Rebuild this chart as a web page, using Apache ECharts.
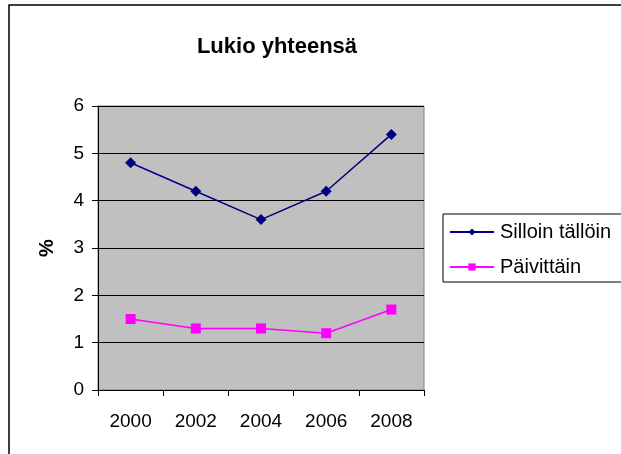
<!DOCTYPE html>
<html>
<head>
<meta charset="utf-8">
<script src="https://cdn.jsdelivr.net/npm/echarts@6/dist/echarts.min.js"></script>
<style>
  html, body { margin: 0; padding: 0; background: #fff; overflow: hidden; }
  #chart { width: 621px; height: 454px; }
</style>
</head>
<body>
<div id="chart"></div>
<script>
// vuodet ja arvot (%)
const years = ['2000', '2002', '2004', '2006', '2008'];
const silloinTalloin = [4.8, 4.2, 3.6, 4.2, 5.4];
const paivittain = [1.5, 1.3, 1.3, 1.2, 1.7];

const myChart = echarts.init(document.getElementById('chart'));
const font = 'Liberation Sans, Arial, sans-serif';

myChart.setOption({
  animation: false,
  textStyle: { fontFamily: font },
  title: {
    text: 'Lukio yhteensä',
    left: 272,
    textAlign: 'center',
    top: 31,
    textStyle: { fontSize: 22, fontWeight: 'bold', color: '#000', fontFamily: font },
  },
  graphic: [
    {
      type: 'rect',
      shape: { x: 9, y: 5, width: 800, height: 600 },
      style: { fill: null, stroke: '#000', lineWidth: 1.5 },
      z: -10,
    },
  ],
  legend: {
    orient: 'vertical',
    left: 443,
    top: 214,
    padding: [7, 40, 4, 6],
    itemGap: 13,
    itemWidth: 44,
    itemHeight: 9,
    borderColor: '#000',
    borderWidth: 1,
    textStyle: { fontSize: 20, lineHeight: 22, color: '#000', fontFamily: font, padding: [0, 0, 0, 1] },
    data: ['Silloin tällöin', 'Päivittäin'],
  },
  grid: {
    left: 98,
    top: 106,
    width: 326,
    height: 284,
    show: true,
    backgroundColor: '#C0C0C0',
    borderColor: '#808080',
    borderWidth: 1,
    containLabel: false,
  },
  xAxis: {
    type: 'category',
    data: years,
    boundaryGap: true,
    axisLine: { lineStyle: { color: '#000', width: 1 } },
    axisTick: { show: true, length: 6, lineStyle: { color: '#000' } },
    axisLabel: { fontSize: 19, color: '#000', margin: 22, fontFamily: font },
  },
  yAxis: {
    type: 'value',
    min: 0,
    max: 6,
    interval: 1,
    name: '%',
    nameLocation: 'middle',
    nameRotate: 90,
    nameGap: 41,
    nameTextStyle: { fontSize: 20, fontWeight: 'bold', color: '#000', fontFamily: font },
    axisLine: { show: true, lineStyle: { color: '#000', width: 1 } },
    axisTick: { show: true, length: 6, lineStyle: { color: '#000' } },
    axisLabel: { fontSize: 19, color: '#000', margin: 14, fontFamily: font },
    splitLine: { show: true, lineStyle: { color: '#000', width: 1 } },
  },
  series: [
    {
      name: 'Silloin tällöin',
      type: 'line',
      data: silloinTalloin,
      symbol: 'diamond',
      symbolSize: 11,
      lineStyle: { color: '#000080', width: 1.5 },
      itemStyle: { color: '#000080' },
    },
    {
      name: 'Päivittäin',
      type: 'line',
      data: paivittain,
      symbol: 'rect',
      symbolSize: 10,
      lineStyle: { color: '#FF00FF', width: 1.5 },
      itemStyle: { color: '#FF00FF' },
    },
  ],
});
</script>
</body>
</html>
